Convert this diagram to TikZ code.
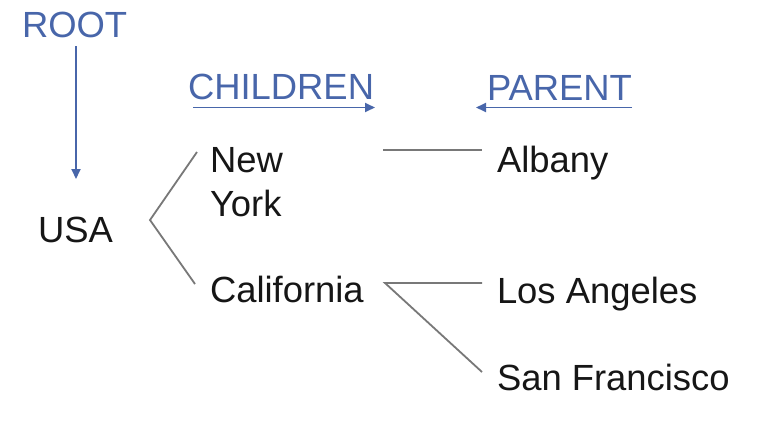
\documentclass[tikz,border=0pt]{standalone}
\usepackage{fontspec}
\setmainfont{Liberation Sans}
\usetikzlibrary{arrows.meta}
\definecolor{hdblue}{RGB}{72,102,170}
\definecolor{txtblack}{RGB}{22,22,22}
\definecolor{lngray}{RGB}{120,120,120}
\tikzset{
  lbl/.style={inner sep=0pt, outer sep=0pt, font=\fontsize{36.4}{44.5}\selectfont, text=txtblack, anchor=base west},
  hdr/.style={lbl, text=hdblue},
  hdarrow/.style={draw=hdblue, line width=1.8pt, -{Triangle[width=9pt,length=10pt]}},
  branch/.style={draw=lngray, line width=1.8pt}
}
\begin{document}
\begin{tikzpicture}[x=1pt,y=-1pt]
\useasboundingbox[fill=white] (0,0) rectangle (776,424);
% headers
\node[hdr] (root) at (22,37.5) {ROOT};
\node[hdr] (children) at (188,99.5) {CHILDREN};
\node[hdr] (parent) at (487,100) {PARENT};
% arrows
\coordinate (rootA) at (76,46);
\coordinate (rootB) at (76,179);
\draw[hdarrow] (rootA) -- (rootB);
\coordinate (chA) at (193,107.5);
\coordinate (chB) at (375,107.5);
\draw[hdarrow] (chA) -- (chB);
\coordinate (paA) at (632,107.5);
\coordinate (paB) at (476,107.5);
\draw[hdarrow] (paA) -- (paB);
% tree labels
\node[lbl] (usa) at (38,242) {USA};
\node[lbl, anchor=north west, align=left] (ny) at (210,147.3) {New\\York};
\node[lbl] (ca) at (210,302.5) {California};
\node[lbl] (albany) at (497,172.5) {Albany};
\node[lbl] (la) at (497,303) {Los Angeles};
\node[lbl] (sf) at (497,390) {San Francisco};
% branch points
\coordinate (usaV) at (150,220);
\coordinate (nyIn) at (197,152);
\coordinate (caIn) at (195,284);
\coordinate (nyOut) at (383,150);
\coordinate (alIn) at (482,150);
\coordinate (caV) at (385,283);
\coordinate (laIn) at (482,283);
\coordinate (sfIn) at (482,372);
\draw[branch] (nyIn) -- (usaV) -- (caIn);
\draw[branch] (nyOut) -- (alIn);
\draw[branch] (laIn) -- (caV) -- (sfIn);
\end{tikzpicture}
\end{document}
